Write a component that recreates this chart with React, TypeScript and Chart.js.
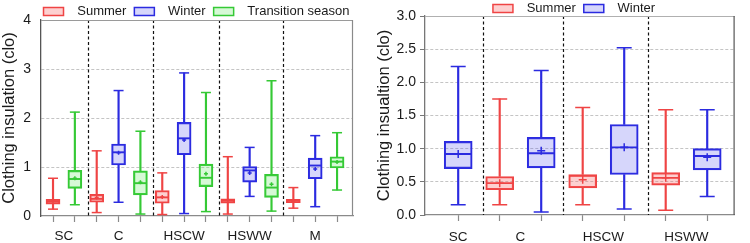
import React, { useEffect, useRef } from 'react';
import { Chart, registerables } from 'chart.js';

Chart.register(...registerables);

const FONT = "'Liberation Sans', Arial, Helvetica, sans-serif";

// ---------- Left panel data ----------
const L_GROUPS = ['SC', 'C', 'HSCW', 'HSWW', 'M'];
const L_GROUP_POS = [0.5, 3, 6, 9, 12];
const L_DIVIDERS = [1.58, 4.56, 7.58, 10.53];

const L_SUMMER_X = [0, 2, 5, 8, 11];
const L_SUMMER_MIN = [0.14, 0.07, 0.03, 0.04, 0.16];
const L_SUMMER_Q1 = [0.24, 0.28, 0.26, 0.26, 0.27];
const L_SUMMER_MED = [0.29, 0.35, 0.38, 0.31, 0.31];
const L_SUMMER_Q3 = [0.34, 0.44, 0.52, 0.35, 0.34];
const L_SUMMER_MAX = [0.77, 1.33, 0.88, 1.21, 0.58];
const L_SUMMER_MEAN = [0.3, 0.38, 0.39, 0.32, 0.3];

const L_WINTER_X = [3, 6, 9, 12];
const L_WINTER_MIN = [0.28, 0.05, 0.4, 0.19];
const L_WINTER_Q1 = [1.04, 1.25, 0.69, 0.76];
const L_WINTER_MED = [1.3, 1.585, 0.93, 1.03];
const L_WINTER_Q3 = [1.47, 1.91, 1.01, 1.18];
const L_WINTER_MAX = [2.56, 2.92, 1.4, 1.64];
const L_WINTER_MEAN = [1.29, 1.55, 0.88, 0.96];

const L_TRANS_X = [1, 4, 7, 10, 13];
const L_TRANS_MIN = [0.23, 0.04, 0.09, 0.1, 0.53];
const L_TRANS_Q1 = [0.565, 0.43, 0.6, 0.38, 0.98];
const L_TRANS_MED = [0.755, 0.67, 0.78, 0.58, 1.11];
const L_TRANS_Q3 = [0.93, 0.92, 1.06, 0.85, 1.21];
const L_TRANS_MAX = [2.12, 1.73, 2.52, 2.76, 1.7];
const L_TRANS_MEAN = [0.77, 0.69, 0.86, 0.65, 1.1];

// ---------- Right panel data ----------
const R_GROUPS = ['SC', 'C', 'HSCW', 'HSWW'];
const R_GROUP_POS = [0, 1.5, 3.5, 5.5];
const R_DIVIDERS = [0.59, 2.52, 4.58];

const R_SUMMER_X = [1, 3, 5];
const R_SUMMER_MIN = [0.155, 0.155, 0.07];
const R_SUMMER_Q1 = [0.38, 0.41, 0.45];
const R_SUMMER_MED = [0.48, 0.59, 0.56];
const R_SUMMER_Q3 = [0.58, 0.61, 0.64];
const R_SUMMER_MAX = [1.75, 1.62, 1.585];
const R_SUMMER_MEAN = [0.48, 0.53, 0.56];

const R_WINTER_X = [0, 2, 4, 6];
const R_WINTER_MIN = [0.155, 0.045, 0.09, 0.28];
const R_WINTER_Q1 = [0.7, 0.71, 0.61, 0.68];
const R_WINTER_MED = [0.92, 0.93, 1.02, 0.89];
const R_WINTER_Q3 = [1.11, 1.17, 1.365, 1.0];
const R_WINTER_MAX = [2.24, 2.18, 2.52, 1.585];
const R_WINTER_MEAN = [0.92, 0.97, 1.02, 0.87];

const LEGEND_LABELS = ['Summer', 'Winter', 'Transition season'];

const RED = '#ef4444';
const RED_FILL = 'rgba(250, 110, 110, 0.32)';
const BLUE = '#2b2be0';
const BLUE_FILL = 'rgba(90, 90, 240, 0.25)';
const GREEN = '#35c935';
const GREEN_FILL = 'rgba(90, 230, 90, 0.25)';

type Sizes = { box: number; cap: number; meanR: number; lw: number };

function boxSeries(
  label: string,
  xs: number[],
  mn: number[],
  q1: number[],
  md: number[],
  q3: number[],
  mx: number[],
  mean: number[],
  color: string,
  fill: string,
  s: Sizes
): any[] {
  return [
    {
      type: 'bar',
      label,
      data: xs.map((x, i) => ({ x, y: [q1[i], q3[i]] })),
      backgroundColor: fill,
      borderColor: color,
      borderWidth: s.lw,
      borderSkipped: false,
      barThickness: s.box,
      grouped: false,
      order: 2,
    },
    {
      type: 'bar',
      label: label + '-wl',
      data: xs.map((x, i) => ({ x, y: [mn[i], q1[i]] })),
      backgroundColor: color,
      borderWidth: 0,
      barThickness: s.lw,
      grouped: false,
      order: 3,
    },
    {
      type: 'bar',
      label: label + '-wh',
      data: xs.map((x, i) => ({ x, y: [q3[i], mx[i]] })),
      backgroundColor: color,
      borderWidth: 0,
      barThickness: s.lw,
      grouped: false,
      order: 3,
    },
    {
      type: 'scatter',
      label: label + '-caps',
      data: xs.flatMap((x, i) => [
        { x, y: mn[i] },
        { x, y: mx[i] },
      ]),
      pointStyle: 'line',
      pointRadius: s.cap,
      pointBorderColor: color,
      pointBorderWidth: s.lw,
      showLine: false,
      order: 1,
    },
    {
      type: 'scatter',
      label: label + '-med',
      data: xs.map((x, i) => ({ x, y: md[i] })),
      pointStyle: 'line',
      pointRadius: s.box / 2 - 0.5,
      pointBorderColor: color,
      pointBorderWidth: s.lw + 0.4,
      showLine: false,
      order: 1,
    },
    {
      type: 'scatter',
      label: label + '-mean',
      data: xs.map((x, i) => ({ x, y: mean[i] })),
      pointStyle: 'cross',
      pointRadius: s.meanR,
      pointBorderColor: color,
      pointBorderWidth: s.lw,
      showLine: false,
      order: 0,
    },
  ];
}

const decorPlugin = {
  id: 'decor',
  afterLayout(chart: any, _args: any, opts: any) {
    const lg = chart.legend;
    if (lg && opts.legendDx) {
      lg.left += opts.legendDx;
      lg.right += opts.legendDx;
    }
  },
  beforeDatasetsDraw(chart: any, _args: any, opts: any) {
    const { ctx, chartArea: a, scales } = chart;
    const xs = scales.x;
    ctx.save();
    ctx.strokeStyle = '#111';
    ctx.lineWidth = 1.2;
    ctx.setLineDash([3, 2.5]);
    (opts.dividers || []).forEach((d: number) => {
      const px = Math.round(xs.getPixelForValue(d)) + 0.5;
      ctx.beginPath();
      ctx.moveTo(px, a.top);
      ctx.lineTo(px, a.bottom);
      ctx.stroke();
    });
    ctx.restore();
  },
  afterDraw(chart: any, _args: any, opts: any) {
    const { ctx, chartArea: a } = chart;
    ctx.save();
    ctx.lineWidth = 1.2;
    ctx.strokeStyle = opts.topColor;
    ctx.beginPath();
    ctx.moveTo(a.left, a.top + 0.5);
    ctx.lineTo(a.right, a.top + 0.5);
    ctx.stroke();
    ctx.strokeStyle = opts.rightColor;
    ctx.beginPath();
    ctx.moveTo(a.right - 0.5, a.top);
    ctx.lineTo(a.right - 0.5, a.bottom);
    ctx.stroke();
    ctx.restore();
  },
};

type PanelCfg = {
  datasets: any[];
  groups: string[];
  groupPos: number[];
  boxPos: number[];
  dividers: number[];
  xMin: number;
  xMax: number;
  yMax: number;
  yStep: number;
  yDecimals: number;
  yTitle: string;
  yWidth: number;
  xHeight: number;
  xLabelPad: number;
  padTop: number;
  padRight: number;
  legendHeight: number;
  legendDx: number;
  yTickLen: number;
  yTickColor: string;
  leftAxisColor: string;
  topColor: string;
  rightColor: string;
};

function makeConfig(p: PanelCfg): any {
  const tickVals = Array.from(new Set([...p.boxPos, ...p.groupPos])).sort((a, b) => a - b);
  return {
    type: 'bar',
    data: { datasets: p.datasets },
    plugins: [decorPlugin],
    options: {
      responsive: false,
      animation: false,
      events: [],
      layout: { padding: { top: p.padTop, right: p.padRight, left: 0, bottom: 0 } },
      plugins: {
        tooltip: { enabled: false },
        decor: {
          dividers: p.dividers,
          legendDx: p.legendDx,
          topColor: p.topColor,
          rightColor: p.rightColor,
        },
        legend: {
          position: 'top',
          maxHeight: p.legendHeight,
          labels: {
            boxWidth: 20,
            boxHeight: 8,
            padding: 8,
            color: '#1a1a1a',
            font: { family: FONT, size: 13 },
            generateLabels: (chart: any) =>
              Chart.defaults.plugins.legend.labels
                .generateLabels(chart)
                .filter((l: any) => LEGEND_LABELS.includes(l.text))
                .map((l: any) => ({ ...l, text: '  ' + l.text })),
          },
        },
      },
      scales: {
        x: {
          type: 'linear',
          min: p.xMin,
          max: p.xMax,
          offset: false,
          afterBuildTicks: (scale: any) => {
            scale.ticks = tickVals.map((v) => ({ value: v }));
          },
          afterFit: (scale: any) => {
            scale.height = p.xHeight;
          },
          grid: {
            offset: false,
            drawOnChartArea: false,
            drawTicks: true,
            tickLength: 6,
            tickWidth: 1.2,
            tickColor: (c: any) =>
              c.tick && p.boxPos.includes(c.tick.value) ? '#8a8a8a' : 'rgba(0,0,0,0)',
          },
          border: { display: true, color: '#8a8a8a', width: 1.2 },
          ticks: {
            autoSkip: false,
            maxRotation: 0,
            minRotation: 0,
            padding: p.xLabelPad,
            color: '#1a1a1a',
            font: { family: FONT, size: 13.5 },
            callback: (v: any) => {
              const i = p.groupPos.indexOf(Number(v));
              return i >= 0 ? p.groups[i] : '';
            },
          },
        },
        y: {
          type: 'linear',
          min: 0,
          max: p.yMax,
          afterFit: (scale: any) => {
            scale.width = p.yWidth;
          },
          grid: {
            drawTicks: true,
            tickLength: p.yTickLen,
            tickColor: p.yTickColor,
            color: (c: any) =>
              c.tick && (c.tick.value === 0 || c.tick.value === p.yMax) ? 'rgba(0,0,0,0)' : '#c4c4c4',
            lineWidth: 1,
          },
          border: { display: true, color: p.leftAxisColor, width: 1.3, dash: [3, 2] },
          ticks: {
            stepSize: p.yStep,
            padding: 4,
            color: '#1a1a1a',
            font: { family: FONT, size: 14 },
            callback: (v: any) => Number(v).toFixed(p.yDecimals),
          },
          title: {
            display: true,
            text: p.yTitle,
            color: '#1a1a1a',
            padding: { top: 0, bottom: 0 },
            font: { family: FONT, size: 16.5, lineHeight: 1.1 },
          },
        },
      },
    },
  };
}

const LEFT_SIZES: Sizes = { box: 14, cap: 5, meanR: 2, lw: 1.5 };
const RIGHT_SIZES: Sizes = { box: 28, cap: 7.5, meanR: 4, lw: 1.5 };

function leftConfig() {
  const datasets = [
    ...boxSeries('Summer', L_SUMMER_X, L_SUMMER_MIN, L_SUMMER_Q1, L_SUMMER_MED, L_SUMMER_Q3, L_SUMMER_MAX, L_SUMMER_MEAN, RED, RED_FILL, LEFT_SIZES),
    ...boxSeries('Winter', L_WINTER_X, L_WINTER_MIN, L_WINTER_Q1, L_WINTER_MED, L_WINTER_Q3, L_WINTER_MAX, L_WINTER_MEAN, BLUE, BLUE_FILL, LEFT_SIZES),
    ...boxSeries('Transition season', L_TRANS_X, L_TRANS_MIN, L_TRANS_Q1, L_TRANS_MED, L_TRANS_Q3, L_TRANS_MAX, L_TRANS_MEAN, GREEN, GREEN_FILL, LEFT_SIZES),
  ];
  return makeConfig({
    datasets,
    groups: L_GROUPS,
    groupPos: L_GROUP_POS,
    boxPos: [...L_SUMMER_X, ...L_WINTER_X, ...L_TRANS_X],
    dividers: L_DIVIDERS,
    xMin: -0.55,
    xMax: 13.73,
    yMax: 4,
    yStep: 1,
    yDecimals: 0,
    yTitle: 'Clothing insulation (clo)',
    yWidth: 41,
    xHeight: 27,
    xLabelPad: 6,
    padTop: -3,
    padRight: 22,
    legendHeight: 23,
    legendDx: 20,
    yTickLen: 6,
    yTickColor: 'rgba(0,0,0,0)',
    leftAxisColor: '#555',
    topColor: '#9a9a9a',
    rightColor: '#8a8a8a',
  });
}

function rightConfig() {
  const datasets = [
    ...boxSeries('Summer', R_SUMMER_X, R_SUMMER_MIN, R_SUMMER_Q1, R_SUMMER_MED, R_SUMMER_Q3, R_SUMMER_MAX, R_SUMMER_MEAN, RED, RED_FILL, RIGHT_SIZES),
    ...boxSeries('Winter', R_WINTER_X, R_WINTER_MIN, R_WINTER_Q1, R_WINTER_MED, R_WINTER_Q3, R_WINTER_MAX, R_WINTER_MEAN, BLUE, BLUE_FILL, RIGHT_SIZES),
  ];
  return makeConfig({
    datasets,
    groups: R_GROUPS,
    groupPos: R_GROUP_POS,
    boxPos: [...R_SUMMER_X, ...R_WINTER_X],
    dividers: R_DIVIDERS,
    xMin: -0.8,
    xMax: 6.66,
    yMax: 3,
    yStep: 0.5,
    yDecimals: 1,
    yTitle: 'Clothing insualtion (clo)',
    yWidth: 50,
    xHeight: 28,
    xLabelPad: 8,
    padTop: -6,
    padRight: 3,
    legendHeight: 22,
    legendDx: 13,
    yTickLen: 5,
    yTickColor: '#777',
    leftAxisColor: '#777',
    topColor: '#b0b0b0',
    rightColor: '#555',
  });
}

function ChartCanvas({ make, left }: { make: () => any; left: number }) {
  const ref = useRef<HTMLCanvasElement | null>(null);
  useEffect(() => {
    if (!ref.current) return;
    const chart = new Chart(ref.current, make());
    return () => chart.destroy();
  }, [make]);
  return (
    <canvas
      ref={ref}
      width={375}
      height={243}
      style={{ position: 'absolute', left, top: 0, width: 375, height: 243 }}
    />
  );
}

export default function App() {
  return (
    <div style={{ position: 'absolute', left: 0, top: 0, width: 750, height: 243, background: '#fff' }}>
      <ChartCanvas make={leftConfig} left={0} />
      <ChartCanvas make={rightConfig} left={375} />
    </div>
  );
}
